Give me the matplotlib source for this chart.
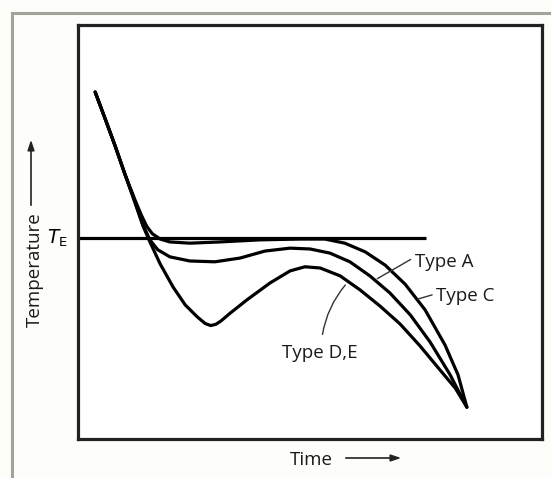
import matplotlib
matplotlib.use('Agg')
import matplotlib.pyplot as plt
from matplotlib.lines import Line2D

# cooling curves (time and temperature in arbitrary units, 0-100)
t_e = 48.5
te_line_x = [0.0, 75.0]

type_a_x = [3.7, 5.8, 8.0, 10.1, 12.3, 13.6, 14.8, 16.0, 17.7, 19.8, 24.1, 30.6, 39.2, 47.8, 53.2,
            57.5, 61.9, 66.2, 70.5, 74.8, 79.1, 81.9, 83.8]
type_a_y = [83.8, 77.5, 70.8, 64.0, 57.7, 54.2, 51.4, 49.6, 48.3, 47.6, 47.3, 47.6, 48.1, 48.3, 48.3,
            47.3, 45.2, 42.0, 37.4, 31.2, 22.7, 15.5, 7.7]

type_c_x = [3.7, 5.8, 8.0, 10.1, 12.3, 14.0, 15.5, 17.2, 19.8, 24.1, 29.5, 34.9, 40.3, 45.7,
            50.0, 54.3, 58.6, 62.9, 67.2, 71.6, 75.9, 80.2, 83.8]
type_c_y = [83.8, 77.5, 70.8, 64.0, 57.3, 51.7, 48.1, 45.7, 44.0, 43.0, 42.8, 43.7, 45.4, 46.1,
            45.9, 44.9, 42.8, 39.4, 35.3, 30.0, 23.4, 15.5, 7.7]

type_de_x = [3.7, 5.8, 8.0, 10.1, 12.3, 14.0, 15.5, 17.7, 20.5, 23.1, 25.7, 27.4, 28.6, 29.7,
             30.8, 32.8, 36.4, 41.4, 45.7, 48.9, 52.2, 56.5, 60.8, 65.1, 69.4, 73.7, 78.0, 81.3, 83.8]
type_de_y = [83.8, 77.5, 70.8, 64.0, 57.0, 51.5, 47.6, 42.3, 36.7, 32.4, 29.5, 27.9, 27.4, 27.7,
             28.5, 30.4, 33.6, 37.7, 40.6, 41.6, 41.3, 39.4, 36.0, 32.1, 27.8, 22.5, 16.7, 12.3, 7.7]

# labels: text, text position, leader start, leader end
labels = ['Type A', 'Type C', 'Type D,E']
label_pos = [(72.6, 42.8), (77.2, 34.5), (52.2, 20.8)]
leader_from = [(72.2, 43.7), (76.9, 35.0), (52.6, 24.6)]
leader_to = [(64.0, 38.4), (72.6, 33.6), (58.0, 37.7)]
label_ha = ['left', 'left', 'center']

plt.rcParams['font.family'] = ['Open Sans', 'DejaVu Sans']
fs = 13.5

W, H = 551, 478
fig = plt.figure(figsize=(W / 100, H / 100), dpi=100, facecolor='#fdfdf9')
ax = fig.add_axes([78 / W, 1 - 439 / H, 464 / W, 414 / H])
ax.set_facecolor('white')
ax.set_xlim(0, 100)
ax.set_ylim(0, 100)
ax.set_xticks([])
ax.set_yticks([])
for s in ax.spines.values():
    s.set_linewidth(2.3)
    s.set_color('#222222')

# outer grey frame (left and top edges only)
fig.add_artist(Line2D([12 / W, 12 / W], [0, 1 - 13 / H], color='#a3a39a', lw=2.2))
fig.add_artist(Line2D([12 / W, 1], [1 - 13 / H, 1 - 13 / H], color='#a3a39a', lw=2.2))

lw = 2.3
ax.plot(te_line_x, [t_e, t_e], color='black', lw=lw, solid_capstyle='butt')
for xs, ys in [(type_a_x, type_a_y), (type_c_x, type_c_y), (type_de_x, type_de_y)]:
    ax.plot(xs, ys, color='black', lw=lw, solid_joinstyle='round', solid_capstyle='round')

for lab, pos, p0, p1, ha in zip(labels, label_pos, leader_from, leader_to, label_ha):
    ax.text(pos[0], pos[1], lab, ha=ha, va='center', fontsize=fs, color='#1a1a1a')
    rad = -0.15 if lab == 'Type D,E' else 0.0
    ax.annotate('', xy=p1, xytext=p0,
                arrowprops=dict(arrowstyle='-', lw=1.0, color='#333333',
                                connectionstyle='arc3,rad={}'.format(rad)))

# axis labels with arrows
ax.text(-0.022, t_e, r'$T_\mathrm{E}$', transform=ax.get_yaxis_transform(),
        ha='right', va='center', fontsize=fs)
fig.text(35 / W, 1 - 270 / H, 'Temperature', rotation=90, ha='center', va='center',
         fontsize=fs, color='#1a1a1a')
ax.annotate('', xy=(31, H - 137), xytext=(31, H - 208), xycoords='figure pixels',
            textcoords='figure pixels',
            arrowprops=dict(arrowstyle='-|>,head_length=0.6,head_width=0.2', lw=1.2,
                            color='#222222'))
fig.text(311 / W, 1 - 460 / H, 'Time', ha='center', va='center', fontsize=fs, color='#1a1a1a')
ax.annotate('', xy=(404, H - 458), xytext=(343, H - 458), xycoords='figure pixels',
            textcoords='figure pixels',
            arrowprops=dict(arrowstyle='-|>,head_length=0.6,head_width=0.2', lw=1.2,
                            color='#222222'))

fig.savefig('out.png', dpi=100, facecolor=fig.get_facecolor())
